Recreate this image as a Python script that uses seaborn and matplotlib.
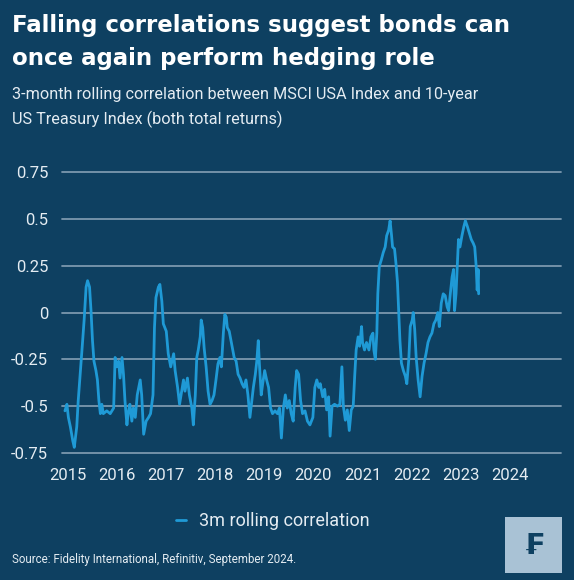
import matplotlib
matplotlib.use("Agg")
import matplotlib.pyplot as plt
from matplotlib.patches import Rectangle
import seaborn as sns

# 3m rolling correlation (decimal years)
years = [
    2014.95, 2014.99, 2015.02, 2015.06, 2015.11, 2015.14, 2015.19, 2015.22, 2015.26, 2015.31,
    2015.34, 2015.38, 2015.41, 2015.45, 2015.48, 2015.51, 2015.54, 2015.58, 2015.61, 2015.64,
    2015.67, 2015.70, 2015.73, 2015.80, 2015.87, 2015.94, 2015.97, 2016.00, 2016.04, 2016.07,
    2016.11, 2016.14, 2016.17, 2016.21, 2016.24, 2016.27, 2016.31, 2016.34, 2016.38, 2016.42,
    2016.48, 2016.51, 2016.55, 2016.60, 2016.65, 2016.69, 2016.74, 2016.77, 2016.80, 2016.85,
    2016.88, 2016.92, 2016.95, 2017.01, 2017.05, 2017.10, 2017.16, 2017.19, 2017.24, 2017.28,
    2017.36, 2017.39, 2017.44, 2017.48, 2017.53, 2017.56, 2017.60, 2017.63, 2017.66, 2017.70,
    2017.72, 2017.75, 2017.78, 2017.82, 2017.86, 2017.90, 2017.94, 2017.98, 2018.02, 2018.06,
    2018.10, 2018.13, 2018.17, 2018.20, 2018.23, 2018.25, 2018.29, 2018.34, 2018.39, 2018.43,
    2018.47, 2018.51, 2018.55, 2018.59, 2018.63, 2018.67, 2018.71, 2018.75, 2018.78, 2018.82,
    2018.85, 2018.88, 2018.90, 2018.94, 2018.97, 2019.01, 2019.05, 2019.09, 2019.13, 2019.17,
    2019.22, 2019.27, 2019.31, 2019.35, 2019.39, 2019.43, 2019.47, 2019.51, 2019.55, 2019.59,
    2019.63, 2019.66, 2019.70, 2019.74, 2019.78, 2019.83, 2019.88, 2019.93, 2019.99, 2020.03,
    2020.07, 2020.11, 2020.14, 2020.19, 2020.23, 2020.27, 2020.31, 2020.34, 2020.38, 2020.43,
    2020.49, 2020.54, 2020.58, 2020.61, 2020.65, 2020.69, 2020.73, 2020.77, 2020.81, 2020.84,
    2020.87, 2020.91, 2020.94, 2020.98, 2021.00, 2021.04, 2021.08, 2021.13, 2021.17, 2021.21,
    2021.23, 2021.26, 2021.29, 2021.31, 2021.34, 2021.38, 2021.42, 2021.46, 2021.49, 2021.53,
    2021.56, 2021.59, 2021.61, 2021.65, 2021.68, 2021.71, 2021.74, 2021.76, 2021.79, 2021.83,
    2021.87, 2021.90, 2021.94, 2021.97, 2022.01, 2022.03, 2022.06, 2022.09, 2022.13, 2022.17,
    2022.21, 2022.25, 2022.29, 2022.33, 2022.37, 2022.41, 2022.45, 2022.49, 2022.53, 2022.56,
    2022.60, 2022.64, 2022.68, 2022.72, 2022.75, 2022.78, 2022.82, 2022.85, 2022.87, 2022.90,
    2022.93, 2022.95, 2022.98, 2023.02, 2023.06, 2023.09, 2023.13, 2023.17, 2023.21, 2023.25,
    2023.28, 2023.31, 2023.33, 2023.35, 2023.36,
]
corr = [
    -0.525, -0.49, -0.56, -0.61, -0.686, -0.72, -0.61, -0.47, -0.33, -0.15,
    -0.04, 0.136, 0.17, 0.136, 0.01, -0.15, -0.26, -0.31, -0.36, -0.47,
    -0.54, -0.49, -0.54, -0.525, -0.54, -0.51, -0.24, -0.29, -0.26, -0.35,
    -0.24, -0.33, -0.47, -0.60, -0.53, -0.49, -0.58, -0.51, -0.56, -0.44,
    -0.36, -0.44, -0.65, -0.58, -0.56, -0.54, -0.44, -0.08, 0.08, 0.136,
    0.15, 0.06, -0.06, -0.10, -0.22, -0.29, -0.22, -0.31, -0.40, -0.49,
    -0.36, -0.42, -0.35, -0.44, -0.51, -0.60, -0.44, -0.24, -0.20, -0.13,
    -0.04, -0.08, -0.19, -0.29, -0.42, -0.49, -0.47, -0.44, -0.36, -0.275,
    -0.24, -0.29, -0.11, -0.01, -0.025, -0.08, -0.10, -0.17, -0.24, -0.26,
    -0.33, -0.35, -0.38, -0.40, -0.36, -0.44, -0.56, -0.47, -0.40, -0.33,
    -0.26, -0.15, -0.26, -0.44, -0.38, -0.31, -0.36, -0.40, -0.51, -0.54,
    -0.525, -0.54, -0.51, -0.67, -0.51, -0.44, -0.51, -0.47, -0.54, -0.58,
    -0.40, -0.31, -0.33, -0.47, -0.54, -0.525, -0.58, -0.60, -0.56, -0.40,
    -0.36, -0.40, -0.38, -0.45, -0.41, -0.52, -0.45, -0.66, -0.50, -0.49,
    -0.50, -0.49, -0.29, -0.50, -0.575, -0.52, -0.63, -0.52, -0.50, -0.34,
    -0.20, -0.13, -0.18, -0.075, -0.16, -0.20, -0.16, -0.20, -0.13, -0.11,
    -0.20, -0.25, -0.11, 0.10, 0.246, 0.28, 0.32, 0.35, 0.41, 0.44,
    0.49, 0.41, 0.35, 0.34, 0.26, 0.16, -0.02, -0.15, -0.27, -0.31,
    -0.34, -0.38, -0.25, -0.075, -0.04, 0.0, -0.09, -0.24, -0.36, -0.45,
    -0.34, -0.27, -0.22, -0.16, -0.13, -0.11, -0.06, -0.04, 0.0, -0.075,
    0.05, 0.10, 0.09, 0.03, 0.01, 0.09, 0.19, 0.23, 0.01, 0.10,
    0.28, 0.39, 0.35, 0.41, 0.46, 0.49, 0.46, 0.425, 0.39, 0.37,
    0.35, 0.246, 0.12, 0.23, 0.10,
]

xtick_years = [2015, 2016, 2017, 2018, 2019, 2020, 2021, 2022, 2023, 2024]
ytick_vals = [-0.75, -0.5, -0.25, 0, 0.25, 0.5, 0.75]
ytick_labels = ["-0.75", "-0.5", "-0.25", "0", "0.25", "0.5", "0.75"]

bg = "#0e4061"
grid_col = "#7b98ae"
line_col = "#1f9ad6"
txt_col = "#e4ecf2"

sns.set_style("dark", {"axes.facecolor": bg, "figure.facecolor": bg})
plt.rcParams["font.family"] = ["Roboto", "DejaVu Sans"]

fig = plt.figure(figsize=(5.74, 5.80), dpi=100)
ax = fig.add_axes([0.108, 0.219, 0.869, 0.494])

sns.lineplot(x=years, y=corr, ax=ax, color=line_col, linewidth=2.0,
             label="3m rolling correlation", legend=False)

ax.set_xlim(2014.89, 2025.03)
ax.set_ylim(-0.75, 0.78)
ax.set_xticks(xtick_years)
ax.set_xticklabels([str(y) for y in xtick_years])
ax.set_yticks(ytick_vals)
ax.set_yticklabels(ytick_labels)
ax.set_xlabel("")
ax.set_ylabel("")

ax.grid(False)
for v in ytick_vals:
    ax.axhline(v, color=grid_col, linewidth=1.3, zorder=0, clip_on=False)

for s in ax.spines.values():
    s.set_visible(False)

ax.tick_params(axis="y", length=0, pad=10, labelsize=12, labelcolor=txt_col)
ax.tick_params(axis="x", length=5, width=1, direction="inout", color=grid_col,
               pad=8, labelsize=12, labelcolor=txt_col)

# titles
title_font = dict(fontsize=16.5, fontweight="bold", color="white", va="baseline",
                  family=["DejaVu Sans"])
fig.text(0.021, 0.945, "Falling correlations suggest bonds can", **title_font)
fig.text(0.021, 0.888, "once again perform hedging role", **title_font)
fig.text(0.021, 0.829, "3-month rolling correlation between MSCI USA Index and 10-year",
         fontsize=11.7, color=txt_col, va="baseline")
fig.text(0.021, 0.786, "US Treasury Index (both total returns)",
         fontsize=11.7, color=txt_col, va="baseline")

leg = fig.legend(loc="center", bbox_to_anchor=(0.475, 0.102), frameon=False,
                 handlelength=0.6, handletextpad=0.7, fontsize=13)
for t in leg.get_texts():
    t.set_color(txt_col)

fig.text(0.021, 0.029, "Source: Fidelity International, Refinitiv, September 2024.",
         fontsize=8.3, color=txt_col, va="baseline")

# logo box
fig.patches.append(Rectangle((505 / 574, 1 - 573 / 580), 57 / 574, 56 / 580,
                             transform=fig.transFigure, facecolor="#a9c2d5",
                             edgecolor="none"))
fig.text(533.5 / 574, 1 - 546 / 580, "₣", fontsize=21, fontweight="bold",
         color=bg, ha="center", va="center", family=["DejaVu Sans"])

fig.savefig("out.png", dpi=100, facecolor=bg)
